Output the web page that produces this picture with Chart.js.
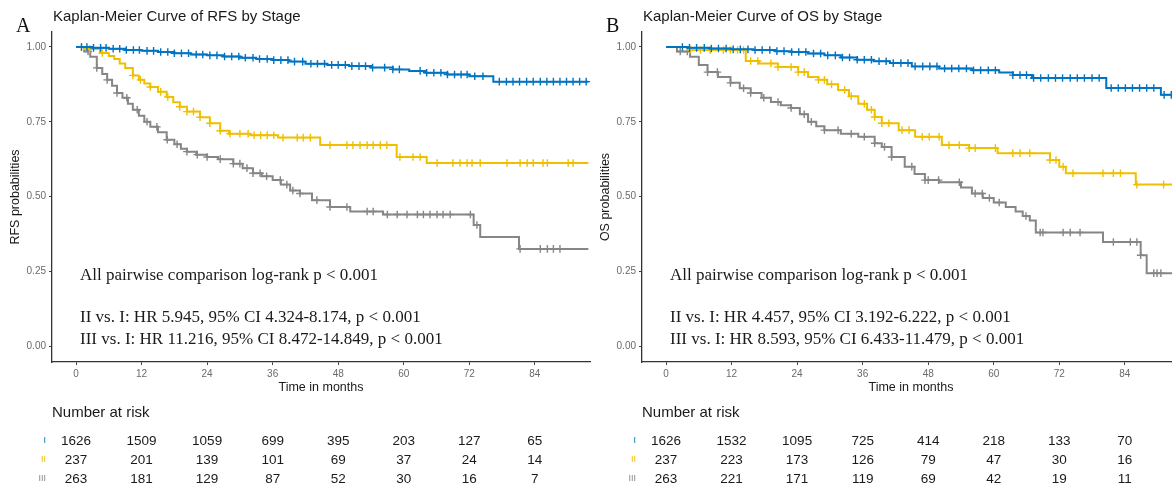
<!DOCTYPE html>
<html>
<head>
<meta charset="utf-8">
<script src="https://cdn.jsdelivr.net/npm/chart.js@4.4.1/dist/chart.umd.min.js"></script>
<style>
  html, body { margin: 0; padding: 0; background: #fff; overflow: hidden; }
  body { width: 1172px; height: 491px; position: relative; }
  canvas { position: absolute; top: 0; }
  #rfs { left: 0; }
  #os { left: 590px; }
</style>
</head>
<body>
<canvas id="rfs" width="600" height="491"></canvas>
<canvas id="os" width="600" height="491"></canvas>
<script>
const timeTicks = [0, 12, 24, 36, 48, 60, 72, 84];
const probTicks = [0, 0.25, 0.5, 0.75, 1];
const stageLabels = ['I', 'II', 'III'];
const stageColors = ['#0073C2', '#EFC000', '#868686'];

// RFS curves: step times and survival after each step, plus censor times
const rfsTimeI = [0, 3, 6, 9, 12, 15, 18, 21, 24, 27, 30, 33, 36, 39, 42, 46, 50, 54, 58, 61, 64, 68, 72, 76.4, 93.8];
const rfsSurvI = [1, 0.997, 0.994, 0.99, 0.987, 0.983, 0.979, 0.975, 0.972, 0.968, 0.964, 0.96, 0.956, 0.951, 0.944, 0.94, 0.936, 0.931, 0.925, 0.92, 0.914, 0.908, 0.902, 0.884, 0.884];
const rfsCensorI = [1, 2, 3.2, 4.5, 5.5, 6.8, 8, 9.2, 10.5, 11.6, 13, 14.2, 15.5, 16.8, 18, 19.3, 20.6, 22, 23.2, 24.5, 25.8, 27.2, 28.5, 29.8, 31, 32.4, 33.6, 35, 36.2, 37.5, 38.8, 40, 41.5, 43, 44.2, 45.5, 46.8, 48, 49.3, 50.5, 51.8, 53, 54.3, 56.5, 58, 59.2, 63, 64.2, 65.5, 66.8, 68, 69.3, 70.5, 71.6, 73, 74.5, 77.5, 78.8, 80, 81.2, 82.5, 83.7, 85, 86.2, 87.4, 88.6, 89.8, 91, 92.2, 93.4];

const rfsTimeII = [0, 1.5, 4.4, 6, 7, 8, 9, 10.4, 11.5, 12.5, 13.6, 15, 16.6, 17.8, 19, 20.3, 22.7, 24.5, 26.4, 28, 31.9, 37, 44.7, 58.7, 64.2, 93.8];
const rfsSurvII = [1, 0.993, 0.98, 0.97, 0.96, 0.945, 0.93, 0.905, 0.89, 0.878, 0.866, 0.85, 0.833, 0.815, 0.8, 0.784, 0.765, 0.745, 0.72, 0.71, 0.705, 0.697, 0.672, 0.632, 0.612, 0.612];
const rfsCensorII = [1, 2.5, 4.8, 10.4, 11.8, 13.6, 15.5, 16.8, 19, 20.3, 21.5, 22.7, 24.5, 26.4, 28.2, 30, 31.5, 32.6, 33.8, 35, 36.2, 37.9, 40.5, 41.6, 42.9, 46.5, 49.6, 50.7, 52, 53.3, 54.4, 55.7, 56.9, 59.3, 61.7, 63, 66.1, 69, 70.3, 71.6, 72.5, 74, 78.9, 81.3, 82.6, 83.7, 85.5, 86.3, 90.1, 91];

const rfsTimeIII = [0, 1.5, 2.6, 3.8, 4.8, 5.7, 6.6, 7.5, 8.5, 9.5, 10.4, 11.5, 12.5, 13.6, 15, 16.6, 18, 19.2, 20.3, 22, 24, 26, 28.8, 30.5, 32.4, 34, 36, 37.5, 39.2, 41, 43.2, 46.5, 50.2, 56.2, 72.8, 74, 81.1, 93.8];
const rfsSurvIII = [1, 0.985, 0.967, 0.93, 0.91, 0.89, 0.87, 0.846, 0.83, 0.81, 0.79, 0.77, 0.75, 0.733, 0.715, 0.69, 0.675, 0.66, 0.65, 0.64, 0.632, 0.625, 0.61, 0.595, 0.578, 0.568, 0.555, 0.54, 0.52, 0.51, 0.488, 0.465, 0.45, 0.44, 0.405, 0.365, 0.325, 0.325];
const rfsCensorIII = [2.2, 3.8, 5.7, 7.5, 9.3, 11.2, 13, 14.8, 16.7, 18.5, 20.3, 22.2, 24, 26.4, 28.8, 30, 31.3, 32.4, 33.7, 34.9, 37.4, 38.6, 39.7, 41, 44.1, 46.5, 49.6, 53.3, 54.4, 57, 58.8, 60.6, 62.5, 63.6, 64.8, 66.1, 67.2, 68.5, 72.2, 73.4, 81.3, 85, 86.3, 87.4, 88.6];

// OS curves
const osTimeI = [0, 4, 8, 12, 16, 20, 23, 26, 29, 32, 35, 38, 41, 45, 50, 56, 61, 63.5, 67, 80.6, 90.6, 93.5];
const osSurvI = [1, 0.997, 0.995, 0.992, 0.99, 0.986, 0.983, 0.978, 0.972, 0.965, 0.957, 0.952, 0.946, 0.935, 0.928, 0.922, 0.915, 0.906, 0.896, 0.863, 0.84, 0.84];
const osCensorI = [3, 4.3, 5.6, 7, 8.3, 9.6, 11, 12.3, 13.6, 15, 16.3, 17.6, 19, 20.3, 21.6, 23, 24.3, 25.6, 27, 28.3, 29.6, 31, 32.3, 33.6, 35, 36.3, 37.6, 39, 40.3, 41.6, 43, 44.3, 45.6, 47, 48.3, 49.6, 51, 52.3, 53.6, 55, 56.3, 57.6, 59, 60.3, 63.5, 64.8, 66, 67.3, 68.6, 70, 71.3, 72.6, 74, 75.3, 76.6, 78, 79.3, 81.5, 82.8, 84.1, 85.4, 86.7, 88, 89.3, 91.2, 92.5];

const osTimeII = [0, 4.4, 14.6, 17, 20.5, 24.2, 26, 27.9, 29.5, 31.5, 33.5, 35.2, 36.8, 38.2, 39.5, 42.6, 45.6, 50.5, 55.5, 60.7, 70.3, 72, 73.2, 86, 93.5];
const osSurvII = [1, 0.99, 0.953, 0.945, 0.933, 0.916, 0.9, 0.89, 0.875, 0.856, 0.835, 0.81, 0.79, 0.766, 0.745, 0.722, 0.7, 0.672, 0.662, 0.645, 0.622, 0.6, 0.578, 0.54, 0.54];
const osCensorII = [4.4, 6.3, 8.1, 10.5, 11.8, 13.1, 14.2, 15.5, 16.8, 19.2, 20.5, 22.9, 24.2, 25.3, 27.9, 29, 30.3, 32.7, 33.9, 36.3, 37.6, 38.2, 39.5, 40.8, 43.2, 44.5, 46.9, 48.2, 50, 51.8, 53.7, 55.5, 56.6, 60.3, 63.5, 64.8, 66.6, 70.3, 71.4, 72.7, 74.5, 80, 81.9, 83.2, 86.2, 91.1];

const osTimeIII = [0, 2, 4.4, 6, 7.6, 9.5, 11.8, 13.5, 15.5, 17.5, 19.2, 21, 22.9, 24.5, 26, 27.5, 29, 32, 35.2, 38.2, 39.5, 41.3, 43.7, 45.5, 47.4, 50, 54, 56, 58, 60, 62.2, 64, 65.3, 66.6, 67.7, 80, 86.9, 88, 93.5];
const osSurvIII = [1, 0.985, 0.967, 0.94, 0.916, 0.9, 0.88, 0.862, 0.846, 0.83, 0.816, 0.805, 0.796, 0.775, 0.75, 0.735, 0.722, 0.71, 0.7, 0.678, 0.666, 0.632, 0.6, 0.575, 0.555, 0.548, 0.53, 0.51, 0.495, 0.48, 0.465, 0.45, 0.435, 0.42, 0.38, 0.348, 0.304, 0.244, 0.244];
const osCensorIII = [2.6, 3.9, 7.6, 9.4, 11.8, 14.2, 15.5, 17.9, 20.5, 22.9, 25.3, 26.6, 29, 31.5, 33.9, 36.3, 38.2, 40, 41.3, 45, 47.4, 48, 49.9, 53.7, 56.6, 57.9, 59.2, 61, 65.9, 68.5, 69, 72.7, 74, 75.8, 81.9, 85, 86.2, 86.9, 89.3, 89.9, 90.6];

// number at risk at each time tick
const rfsRiskI = [1626, 1509, 1059, 699, 395, 203, 127, 65];
const rfsRiskII = [237, 201, 139, 101, 69, 37, 24, 14];
const rfsRiskIII = [263, 181, 129, 87, 52, 30, 16, 7];
const osRiskI = [1626, 1532, 1095, 725, 414, 218, 133, 70];
const osRiskII = [237, 223, 173, 126, 79, 47, 30, 16];
const osRiskIII = [263, 221, 171, 119, 69, 42, 19, 11];

const rfsNotes = ['All pairwise comparison log-rank p < 0.001', 'II vs. I: HR 5.945, 95% CI 4.324-8.174, p < 0.001', 'III vs. I: HR 11.216, 95% CI 8.472-14.849, p < 0.001'];
const osNotes = ['All pairwise comparison log-rank p < 0.001', 'II vs. I: HR 4.457, 95% CI 3.192-6.222, p < 0.001', 'III vs. I: HR 8.593, 95% CI 6.433-11.479, p < 0.001'];

const SANS = '"Liberation Sans", Arial, sans-serif';
const SERIF = '"Liberation Serif", "Times New Roman", serif';
Chart.defaults.font.family = SANS;

function stepAt(times, surv, t) {
  let s = surv[0];
  for (let i = 0; i < times.length; i++) if (times[i] <= t) s = surv[i];
  return s;
}

function curveSets(times, survs, censors) {
  const sets = [];
  times.forEach((tt, k) => {
    sets.push({
      data: tt.map((t, i) => ({ x: t, y: survs[k][i] })),
      showLine: true, stepped: true,
      borderColor: stageColors[k], borderWidth: 2,
      pointRadius: 0, fill: false
    });
    sets.push({
      data: censors[k].map(t => ({ x: t, y: stepAt(tt, survs[k], t) })),
      showLine: false, pointStyle: 'cross', pointRadius: 3.8,
      borderColor: stageColors[k], borderWidth: 1.4
    });
  });
  return sets;
}

const panelText = {
  id: 'panelText',
  afterDraw(chart, args, o) {
    const ctx = chart.ctx, a = chart.chartArea, xs = chart.scales.x;
    ctx.save();
    ctx.fillStyle = '#111';
    ctx.textAlign = 'left';
    ctx.textBaseline = 'alphabetic';
    ctx.font = '20px ' + SERIF;
    ctx.fillText(o.letter, 16, 32);

    ctx.textBaseline = 'middle';
    ctx.fillStyle = '#1a1a1a';
    ctx.font = '15px ' + SANS;
    ctx.fillText(o.title, a.left + 1, 17);

    ctx.font = '17px ' + SERIF;
    const nx = xs.getPixelForValue(0) + 4;
    ctx.fillText(o.notes[0], nx, 276);
    ctx.fillText(o.notes[1], nx, 318);
    ctx.fillText(o.notes[2], nx, 340);

    ctx.textAlign = 'center';
    ctx.font = '12.5px ' + SANS;
    ctx.fillText('Time in months', (a.left + a.right) / 2, 388);
    ctx.save();
    ctx.translate(16, (a.top + a.bottom) / 2);
    ctx.rotate(-Math.PI / 2);
    ctx.fillText(o.yTitle, 0, 0);
    ctx.restore();

    ctx.textAlign = 'left';
    ctx.font = '15px ' + SANS;
    ctx.fillText('Number at risk', a.left, 413);

    const rowY = [441, 460, 479];
    o.risk.forEach((row, k) => {
      ctx.textAlign = 'right';
      ctx.font = '9px ' + SANS;
      ctx.fillStyle = stageColors[k];
      ctx.fillText(stageLabels[k], 46, rowY[k]);
      ctx.textAlign = 'center';
      ctx.font = '13.5px ' + SANS;
      ctx.fillStyle = '#1a1a1a';
      row.forEach((n, i) => ctx.fillText(String(n), xs.getPixelForValue(timeTicks[i]), rowY[k]));
    });
    ctx.restore();
  }
};

function makePanel(id, sets, opts) {
  return new Chart(document.getElementById(id), {
    type: 'scatter',
    data: { datasets: sets },
    options: {
      responsive: false,
      animation: false,
      devicePixelRatio: 1,
      layout: { padding: { top: 32, right: 10, bottom: 100, left: 0 } },
      plugins: { legend: { display: false }, tooltip: { enabled: false }, panelText: opts },
      scales: {
        x: {
          type: 'linear', min: -4.4, max: 94.1,
          afterBuildTicks: s => { s.ticks = timeTicks.map(v => ({ value: v })); },
          afterFit: s => { s.height = 29; },
          ticks: { color: '#6a6a6a', font: { size: 10 }, padding: 3, maxRotation: 0 },
          grid: { drawOnChartArea: false, drawTicks: true, tickLength: 3, color: '#444' },
          border: { display: true, color: '#333', width: 1.3 }
        },
        y: {
          type: 'linear', min: -0.053, max: 1.05,
          afterBuildTicks: s => { s.ticks = probTicks.map(v => ({ value: v })); },
          afterFit: s => { s.width = 52; },
          ticks: { color: '#6a6a6a', font: { size: 10 }, padding: 3, callback: v => v.toFixed(2) },
          grid: { drawOnChartArea: false, drawTicks: true, tickLength: 3, color: '#444' },
          border: { display: true, color: '#333', width: 1.3 }
        }
      }
    },
    plugins: [panelText]
  });
}

makePanel('rfs',
  curveSets([rfsTimeI, rfsTimeII, rfsTimeIII], [rfsSurvI, rfsSurvII, rfsSurvIII], [rfsCensorI, rfsCensorII, rfsCensorIII]),
  { letter: 'A', title: 'Kaplan-Meier Curve of RFS by Stage', yTitle: 'RFS probabilities', notes: rfsNotes, risk: [rfsRiskI, rfsRiskII, rfsRiskIII] });

makePanel('os',
  curveSets([osTimeI, osTimeII, osTimeIII], [osSurvI, osSurvII, osSurvIII], [osCensorI, osCensorII, osCensorIII]),
  { letter: 'B', title: 'Kaplan-Meier Curve of OS by Stage', yTitle: 'OS probabilities', notes: osNotes, risk: [osRiskI, osRiskII, osRiskIII] });
</script>
</body>
</html>
